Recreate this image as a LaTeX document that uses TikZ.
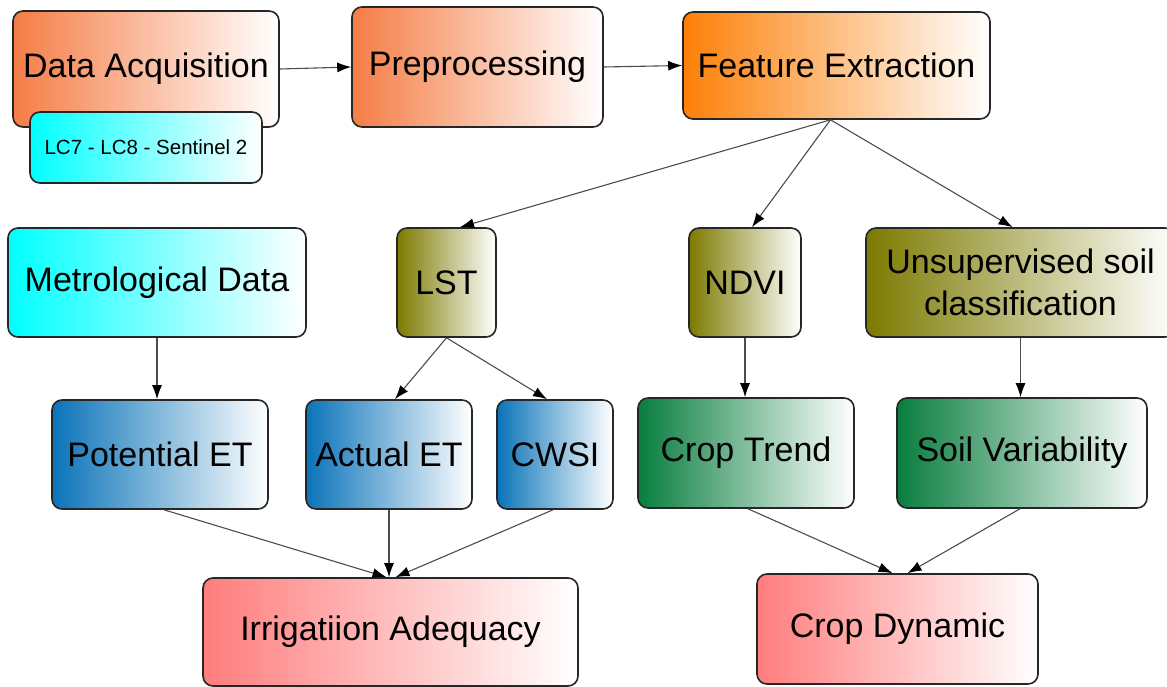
\documentclass[tikz,border=0pt]{standalone}
\usepackage{fontspec}
\setmainfont{Liberation Sans}
\usetikzlibrary{arrows.meta,calc}
\definecolor{corange}{RGB}{245,125,70}
\definecolor{forange}{RGB}{252,128,8}
\definecolor{ccyan}{RGB}{0,255,255}
\definecolor{colive}{RGB}{124,122,0}
\definecolor{cblue}{RGB}{10,115,185}
\definecolor{cgreen}{RGB}{8,125,62}
\definecolor{cred}{RGB}{255,125,125}
\begin{document}
\begin{tikzpicture}[x=1pt,y=-1pt,
  box/.style={draw=black!85,line width=1.6pt,rounded corners=10pt,inner sep=0pt,
    font=\fontsize{34}{42}\selectfont,text=black,right color=white,align=center},
  conn/.style={draw=black!70,line width=1.1pt,-{Latex[length=14pt,width=10pt,color=black]}}]
\path[use as bounding box] (0,0) rectangle (1167,687);
\clip (0,0) rectangle (1167,687);

% top row
\node[box,left color=corange,minimum width=266pt,minimum height=116pt] (da) at (146,69) {Data Acquisition};
\node[box,left color=ccyan,minimum width=232pt,minimum height=71pt,font=\fontsize{20.5}{24}\selectfont] (lc) at (146,147.5) {LC7 - LC8 - Sentinel 2};
\node[box,left color=corange,minimum width=251pt,minimum height=120pt] (pre) at (477.5,67) {Preprocessing};
\node[box,left color=forange,minimum width=307pt,minimum height=107pt] (fe) at (836.5,65.5) {Feature Extraction};

% second row
\node[box,left color=ccyan,minimum width=298pt,minimum height=109pt] (md) at (157,282.5) {Metrological Data};
\node[box,left color=colive,minimum width=99pt,minimum height=109pt] (lst) at (446.5,282.5) {LST};
\node[box,left color=colive,minimum width=112pt,minimum height=109pt] (ndvi) at (745,282.5) {NDVI};
\node[box,left color=colive,minimum width=309pt,minimum height=109pt] (us) at (1020.5,282.5) {Unsupervised soil\\classification};

% third row
\node[box,left color=cblue,minimum width=216pt,minimum height=109pt] (pet) at (160,454.5) {Potential ET};
\node[box,left color=cblue,minimum width=166pt,minimum height=109pt] (aet) at (389,454.5) {Actual ET};
\node[box,left color=cblue,minimum width=116pt,minimum height=109pt] (cwsi) at (555,454.5) {CWSI};
\node[box,left color=cgreen,minimum width=216pt,minimum height=110pt] (ct) at (746,453) {Crop Trend};
\node[box,left color=cgreen,minimum width=250pt,minimum height=110pt] (sv) at (1022,453) {Soil Variability};

% bottom row
\node[box,left color=cred,minimum width=375pt,minimum height=108pt] (ia) at (390.5,632) {Irrigatiion Adequacy};
\node[box,left color=cred,minimum width=281pt,minimum height=110pt] (cd) at (897.5,629) {Crop Dynamic};

% connectors
\draw[conn] (da.east) -- (pre.west);
\draw[conn] (pre.east) -- (fe.west);
\draw[conn] ([xshift=-6pt]fe.south) -- ([xshift=13.5pt]lst.north);
\draw[conn] ([xshift=-6pt]fe.south) -- ([xshift=7pt]ndvi.north);
\draw[conn] ([xshift=-6pt]fe.south) -- ([xshift=-8pt]us.north);
\draw[conn] (md.south) -- (md.south |- pet.north);
\draw[conn] (lst.south) -- ([xshift=6pt]aet.north);
\draw[conn] (lst.south) -- ([xshift=-8pt]cwsi.north);
\draw[conn] (ndvi.south) -- (ndvi.south |- ct.north);
\draw[conn] (us.south) -- (us.south |- sv.north);
\draw[conn] ([xshift=4pt]pet.south) -- ([xshift=-4pt]ia.north);
\draw[conn] (aet.south) -- (aet.south |- ia.north);
\draw[conn] ([xshift=-2pt]cwsi.south) -- ([xshift=5pt]ia.north);
\draw[conn] ([xshift=2pt]ct.south) -- ([xshift=-5pt]cd.north);
\draw[conn] ([xshift=-2pt]sv.south) -- ([xshift=10pt]cd.north);
\end{tikzpicture}
\end{document}
